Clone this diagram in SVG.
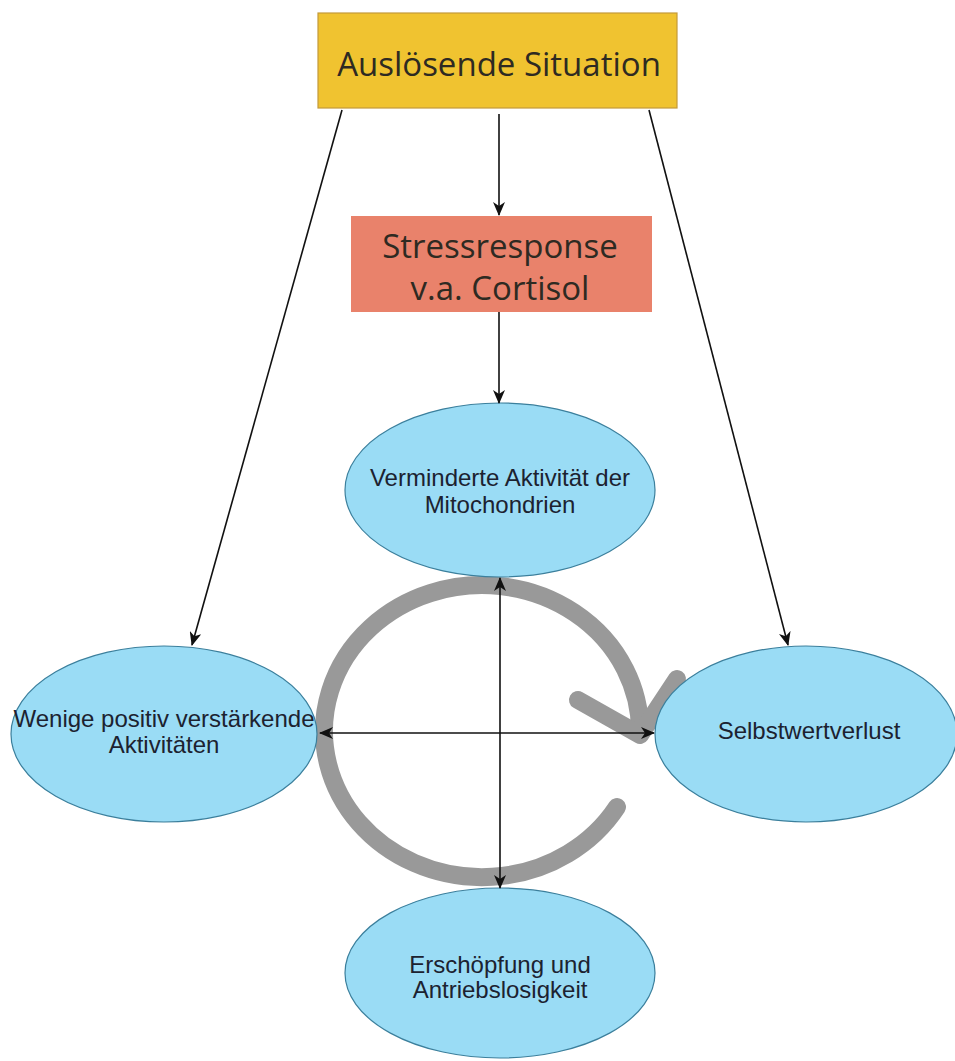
<svg xmlns="http://www.w3.org/2000/svg" width="955" height="1061" viewBox="0 0 955 1061">
<defs>
<marker id="ah" markerUnits="userSpaceOnUse" viewBox="0 0 14 12" refX="13" refY="6" markerWidth="14" markerHeight="12" orient="auto-start-reverse">
<path d="M0,0 L14,6 L0,12 L4,6 Z" fill="#111"/>
</marker>
<style>
.ell{fill:#9adcf5;stroke:#3b7f9c;stroke-width:1.2}
.et{font-family:"Liberation Sans",Arial,sans-serif;font-size:24px;fill:#1c2230;text-anchor:middle}
.bt{font-family:"Open Sans","Noto Sans",sans-serif;font-size:33px;fill:#2e2a22;text-anchor:middle}
.con{stroke:#111;stroke-width:1.6;fill:none}
</style>
</defs>
<rect width="955" height="1061" fill="#ffffff"/>

<g id="cycle">
<path d="M 617 807 A 158 146 0 1 1 640 733" fill="none" stroke="#999999" stroke-width="18" stroke-linecap="round"/>
<path d="M 578 700 L 640 735 L 677 679" fill="none" stroke="#999999" stroke-width="18" stroke-linecap="round" stroke-linejoin="round"/>
</g>

<g id="n-ausloesend">
<rect x="318" y="13" width="359" height="95" fill="#f0c330" stroke="#c49a3a" stroke-width="1.2"/>
<text class="bt" x="499" y="76" font-size="34">Auslösende Situation</text>
</g>

<g id="n-stress">
<rect x="351" y="216" width="301" height="96" fill="#e9826b"/>
<text class="bt" font-size="32"><tspan x="500" y="258">Stressresponse</tspan><tspan x="500" y="300">v.a. Cortisol</tspan></text>
</g>

<g id="n-mito">
<ellipse class="ell" cx="500" cy="490" rx="155" ry="87"/>
<text class="et"><tspan x="500" y="486">Verminderte Aktivität der</tspan><tspan x="500" y="513">Mitochondrien</tspan></text>
</g>

<g id="n-wenige">
<ellipse class="ell" cx="164" cy="734" rx="153" ry="88"/>
<text class="et"><tspan x="164" y="727">Wenige positiv verstärkende</tspan><tspan x="164" y="753">Aktivitäten</tspan></text>
</g>

<g id="n-selbstwert">
<ellipse class="ell" cx="806" cy="734" rx="151" ry="88"/>
<text class="et" x="809" y="739">Selbstwertverlust</text>
</g>

<g id="n-erschoepfung">
<ellipse class="ell" cx="500" cy="973" rx="155" ry="85"/>
<text class="et"><tspan x="500" y="973">Erschöpfung und</tspan><tspan x="500" y="998">Antriebslosigkeit</tspan></text>
</g>

<g id="connectors">
<line class="con" x1="499" y1="114" x2="499" y2="215" marker-end="url(#ah)"/>
<line class="con" x1="499" y1="312" x2="499" y2="403" marker-end="url(#ah)"/>
<line class="con" x1="342" y1="110" x2="192" y2="645" marker-end="url(#ah)"/>
<line class="con" x1="649" y1="110" x2="788" y2="645" marker-end="url(#ah)"/>
<line class="con" x1="500" y1="578" x2="500" y2="888" marker-start="url(#ah)" marker-end="url(#ah)"/>
<line class="con" x1="320" y1="733" x2="654" y2="733" marker-start="url(#ah)" marker-end="url(#ah)"/>
</g>
</svg>
